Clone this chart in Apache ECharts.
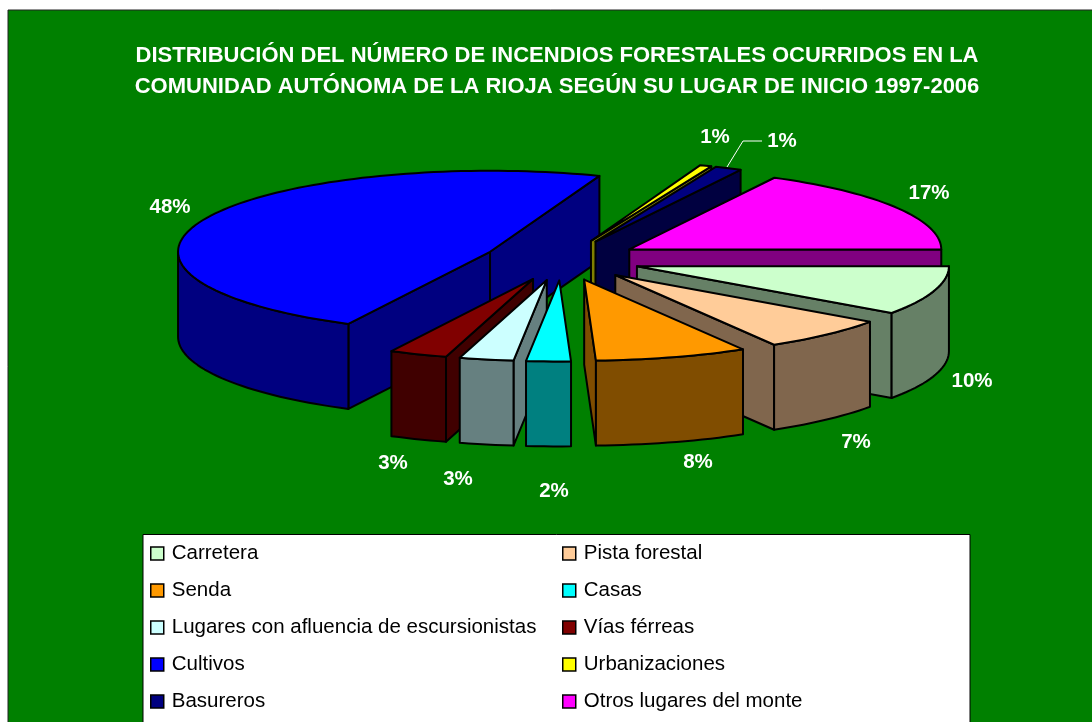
<!DOCTYPE html>
<html>
<head>
<meta charset="utf-8">
<style>
  html, body { margin: 0; padding: 0; background: #fff; }
  #main { width: 1092px; height: 722px; }
</style>
<script src="https://cdn.jsdelivr.net/npm/echarts@6/dist/echarts.min.js"></script>
</head>
<body>
<div id="main"></div>
<script>
// values, labels show them rounded
const names = ['Carretera', 'Pista forestal', 'Senda', 'Casas', 'Lugares con afluencia de escursionistas',
  'Vías férreas', 'Cultivos', 'Urbanizaciones', 'Basureros', 'Otros lugares del monte']
const values = [9.8, 6.7, 7.9, 2.3, 2.8, 3.0, 48.2, 0.6, 1.4, 17.3]
const colors = ['#CCFFCC', '#FFCC99', '#FF9900', '#00FFFF', '#CCFFFF', '#800000', '#0000FF', '#FFFF00', '#000080', '#FF00FF']
const sideColors = ['#668066', '#80664D', '#804D00', '#008080', '#668080', '#400000', '#000080', '#808000', '#000040', '#800080']
const titleLines = ['DISTRIBUCIÓN DEL NÚMERO DE INCENDIOS FORESTALES OCURRIDOS EN LA',
  'COMUNIDAD AUTÓNOMA DE LA RIOJA SEGÚN SU LUGAR DE INICIO 1997-2006']

// pie geometry
const cx = 562, cy = 260, rx = 312, ry = 81, depth = 85, explode = 0.252
// back to front
const drawOrder = [6, 7, 8, 9, 0, 1, 2, 5, 4, 3]
const labelPos = [[972, 381], [856, 442], [698, 462], [554, 491], [458, 479], [393, 463], [170, 207], [715, 137], [782, 141], [929, 193]]

const total = values.reduce((a, b) => a + b)
const starts = []
values.reduce((sum, v, i) => { starts[i] = sum; return sum + v }, 0)
const toAngle = p => p / total * Math.PI * 2

function arcPoints(ax, ay, a1, a2, dy) {
  let pts = []
  let n = Math.max(2, Math.ceil((a2 - a1) / 0.03))
  for (let k = 0; k <= n; k++) {
    let a = a1 + (a2 - a1) * k / n
    pts.push([ax + rx * Math.cos(a), ay + ry * Math.sin(a) + dy])
  }
  return pts
}

function face(points, fill) {
  return {
    type: 'polygon',
    shape: { points: points },
    style: { fill: fill, stroke: '#000', lineWidth: 2, lineJoin: 'round' }
  }
}

function sliceRenderer(i) {
  return function() {
    let a1 = toAngle(starts[i])
    let a2 = toAngle(starts[i] + values[i])
    let mid = (a1 + a2) / 2
    let ax = cx + explode * rx * Math.cos(mid)
    let ay = cy + explode * ry * Math.sin(mid)
    let children = []
    let radial = a => {
      let x = ax + rx * Math.cos(a), y = ay + ry * Math.sin(a)
      children.push(face([[ax, ay], [x, y], [x, y + depth], [ax, ay + depth]], sideColors[i]))
    }
    if (Math.cos(a1) < 0) radial(a1)
    if (Math.cos(a2) > 0) radial(a2)
    // outer wall only on the front half
    let w1 = Math.max(a1, 0), w2 = Math.min(a2, Math.PI)
    if (w2 > w1) {
      let rim = arcPoints(ax, ay, w1, w2, 0)
      let low = arcPoints(ax, ay, w1, w2, depth).reverse()
      children.push(face(rim.concat(low), sideColors[i]))
    }
    children.push(face([[ax, ay]].concat(arcPoints(ax, ay, a1, a2, 0)), colors[i]))
    children.push({
      type: 'text',
      style: {
        text: Math.round(values[i]) + '%',
        x: labelPos[i][0], y: labelPos[i][1],
        align: 'center', verticalAlign: 'middle',
        fill: '#fff', font: 'bold 20.5px "Liberation Sans", Arial, sans-serif'
      }
    })
    if (i === 8) {
      // leader line of the Basureros label
      children.push({
        type: 'polyline',
        shape: { points: [[727, 167], [743, 141], [762, 141]] },
        style: { fill: null, stroke: '#fff', lineWidth: 1 }
      })
    }
    return { type: 'group', children: children }
  }
}

const legendStyle = {
  orient: 'vertical',
  top: 543,
  padding: 0,
  itemWidth: 13,
  itemHeight: 13,
  itemGap: 16,
  selectedMode: false,
  icon: 'rect',
  itemStyle: { borderColor: '#000', borderWidth: 1.5 },
  textStyle: { color: '#000', fontSize: 20.5, fontFamily: '"Liberation Sans", Arial, sans-serif', padding: [0, 0, 0, 3] }
}

const myChart = echarts.init(document.getElementById('main'), null, { renderer: 'canvas' })
myChart.setOption({
  animation: false,
  backgroundColor: '#fff',
  title: {
    text: titleLines.join('\n'),
    left: 552,
    top: 35,
    textAlign: 'center',
    textStyle: {
      color: '#fff', fontSize: 22, fontWeight: 'bold', lineHeight: 31,
      fontFamily: '"Liberation Sans", Arial, sans-serif'
    }
  },
  graphic: [
    {
      type: 'rect', z: -10, silent: true,
      shape: { x: 8, y: 10, width: 1090, height: 720 },
      style: { fill: '#008000', stroke: '#222', lineWidth: 1 }
    },
    {
      type: 'rect', z: -9, silent: true,
      shape: { x: 143, y: 534.5, width: 827, height: 200 },
      style: { fill: '#fff', stroke: '#000', lineWidth: 1 }
    }
  ],
  legend: [
    Object.assign({}, legendStyle, { left: 150, data: names.filter((n, i) => i % 2 === 0) }),
    Object.assign({}, legendStyle, { left: 562, data: names.filter((n, i) => i % 2 === 1) })
  ],
  series: drawOrder.map(i => ({
    type: 'custom',
    name: names[i],
    coordinateSystem: 'none',
    silent: true,
    itemStyle: { color: colors[i] },
    data: [[values[i]]],
    renderItem: sliceRenderer(i)
  }))
})
</script>
</body>
</html>
